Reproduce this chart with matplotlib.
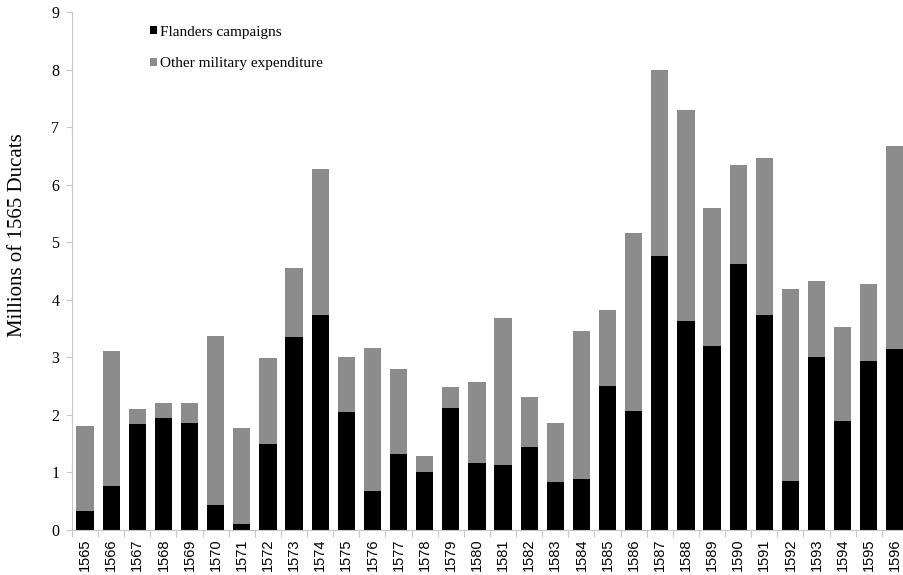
import matplotlib
matplotlib.use("Agg")
import matplotlib.pyplot as plt
from matplotlib.patches import Patch
import numpy as np

years = [str(y) for y in range(1565, 1597)]
flanders = [0.33, 0.77, 1.84, 1.94, 1.86, 0.43, 0.10, 1.49, 3.35, 3.73,
            2.05, 0.67, 1.32, 1.01, 2.12, 1.17, 1.13, 1.45, 0.84, 0.89,
            2.50, 2.06, 4.76, 3.63, 3.19, 4.63, 3.73, 0.86, 3.00, 1.90,
            2.94, 3.14]
total = [1.81, 3.11, 2.11, 2.21, 2.21, 3.37, 1.78, 2.99, 4.55, 6.27,
         3.01, 3.17, 2.80, 1.28, 2.48, 2.58, 3.69, 2.31, 1.86, 3.46,
         3.83, 5.16, 7.99, 7.30, 5.60, 6.35, 6.47, 4.18, 4.33, 3.53,
         4.27, 6.68]
other = [t - f for t, f in zip(total, flanders)]
yticks = list(range(0, 10))

fig = plt.figure(figsize=(9.04, 5.75), dpi=100)
ax = fig.add_axes([72 / 904, 45 / 575, 836 / 904, 518 / 575])

x = np.arange(len(years))
black = "#000000"
grey = "#8c8c8c"
ax.bar(x, flanders, width=0.66, color=black, label="Flanders campaigns", zorder=2)
ax.bar(x, other, width=0.66, bottom=flanders, color=grey,
       label="Other military expenditure", zorder=2)

ax.set_xlim(-0.5, len(years) - 0.5)
ax.set_ylim(0, 9)
ax.set_yticks(yticks)
ax.set_yticklabels([str(v) for v in yticks], family="Liberation Serif", fontsize=11.5)
ax.set_xticks(x)
ax.set_xticklabels(years, rotation=90, family=["Liberation Sans Narrow", "Liberation Sans"],
                   fontsize=10.5)
ax.set_xticks(np.arange(-0.5, len(years), 1), minor=True)
ax.tick_params(axis="x", which="major", length=0, pad=6)
ax.tick_params(axis="x", which="minor", length=5, color="#c8c8c8", width=0.8)
ax.tick_params(axis="y", length=4, color="#c8c8c8", width=0.8, pad=5)

for s in ["top", "right"]:
    ax.spines[s].set_visible(False)
for s in ["left", "bottom"]:
    ax.spines[s].set_color("#c8c8c8")
    ax.spines[s].set_linewidth(0.8)

fig.text(18 / 904, 1 - 235 / 575, "Millions of 1565 Ducats", rotation=90,
         ha="center", va="center", family="Liberation Serif", fontsize=15)

handles = [Patch(facecolor=black, label="Flanders campaigns"),
           Patch(facecolor=grey, label="Other military expenditure")]
leg = ax.legend(handles=handles, loc="upper left", bbox_to_anchor=(0.077, 1.0),
                frameon=False, handlelength=0.45, handleheight=0.45, handletextpad=0.2,
                labelspacing=1.2, prop={"family": "Liberation Serif", "size": 11})

fig.savefig("out.png", dpi=100)
